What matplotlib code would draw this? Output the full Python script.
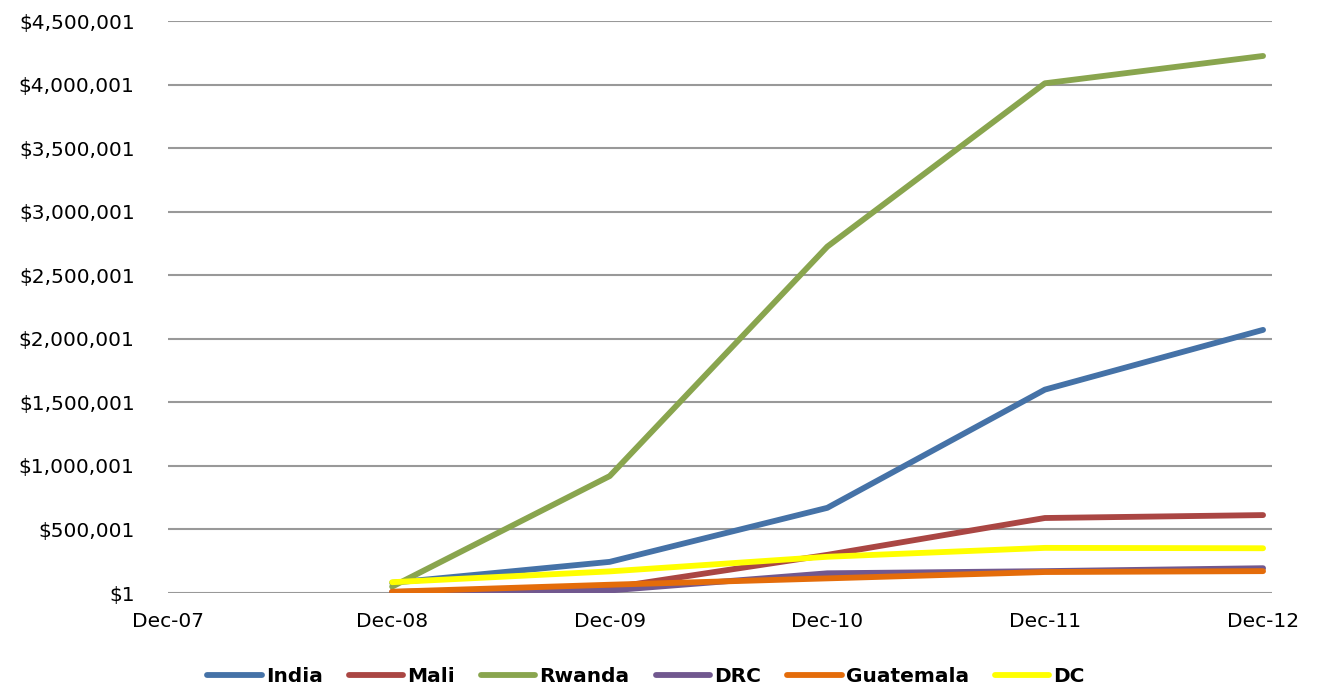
import datetime as dt
import matplotlib
matplotlib.use("Agg")
import matplotlib.pyplot as plt
import matplotlib.dates as mdates
from matplotlib.ticker import FuncFormatter, FixedLocator

# Year-end cumulative totals (USD)
dates = [dt.date(2008, 12, 31), dt.date(2009, 12, 31), dt.date(2010, 12, 31),
         dt.date(2011, 12, 31), dt.date(2012, 12, 31)]
tick_labels = ["Dec-07", "Dec-08", "Dec-09", "Dec-10", "Dec-11", "Dec-12"]

india = [80000, 245000, 670000, 1600000, 2070000]
mali = [8000, 40000, 300000, 590000, 613000]
rwanda = [50000, 920000, 2725000, 4010000, 4225000]
drc = [5000, 20000, 155000, 172000, 195000]
guatemala = [10000, 65000, 115000, 165000, 172000]
dc = [85000, 170000, 285000, 355000, 352000]

series = [
    ("India", india, "#4572A7"),
    ("Mali", mali, "#AA4643"),
    ("Rwanda", rwanda, "#89A54E"),
    ("DRC", drc, "#71588F"),
    ("Guatemala", guatemala, "#E46C0A"),
    ("DC", dc, "#FFFF00"),
]

plt.rcParams["font.family"] = ["DejaVu Sans"]

fig = plt.figure(figsize=(13.17, 6.89), dpi=100)
ax = fig.add_axes([168 / 1317, 1 - 593 / 689, (1272 - 168) / 1317, (593 - 21) / 689])

for name, vals, color in series:
    ax.plot(dates, vals, color=color, lw=4.2, solid_capstyle="round",
            solid_joinstyle="round", label=name)

x_left = dt.date(2007, 12, 21)
x_right = dt.date(2013, 1, 15)
ax.set_xlim(x_left, x_right)
ax.set_ylim(1, 4500001)

yticks = [1 + 500000 * k for k in range(10)]
ax.yaxis.set_major_locator(FixedLocator(yticks))
ax.yaxis.set_major_formatter(FuncFormatter(lambda v, p: "${:,.0f}".format(v)))

xticks = [mdates.date2num(x_left)] + [mdates.date2num(d) for d in dates]
ax.xaxis.set_major_locator(FixedLocator(xticks))
ax.set_xticklabels(tick_labels)

ax.grid(axis="y", color="#999999", lw=1.5)
ax.set_axisbelow(True)
for s in ax.spines.values():
    s.set_visible(False)
ax.tick_params(axis="both", length=0, labelsize=14.5, colors="black")
ax.tick_params(axis="y", pad=24)
ax.tick_params(axis="x", pad=14)

leg = fig.legend(loc="center", bbox_to_anchor=(646 / 1317, 1 - 677 / 689), ncol=6,
                 frameon=False, handlelength=2.7, handletextpad=0.2,
                 columnspacing=1.3,
                 prop={"family": "DejaVu Sans", "weight": "bold", "size": 14.5})

fig.savefig("out.png", dpi=100)
